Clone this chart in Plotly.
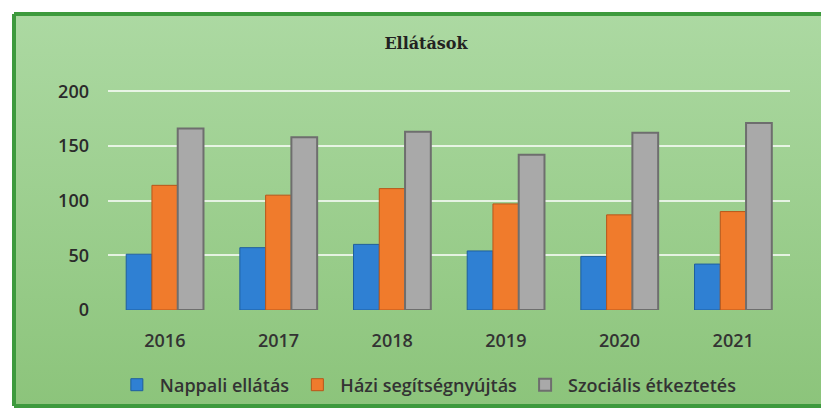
import plotly.graph_objects as go

years = ["2016", "2017", "2018", "2019", "2020", "2021"]
nappali = [51, 57, 60, 54, 49, 42]
hazi = [114, 105, 111, 97, 87, 90]
szocialis = [166, 158, 163, 142, 162, 171]
y_ticks = [0, 50, 100, 150, 200]

colors = {
    'nappali': '#2f80d3',
    'hazi': '#f07b2c',
    'szoc': '#a9a9a9',
}

fig = go.Figure()
fig.add_trace(go.Bar(x=years, y=nappali, name="Nappali ellátás",
                     marker=dict(color=colors['nappali'], line=dict(color='#1f5e9e', width=1))))
fig.add_trace(go.Bar(x=years, y=hazi, name="Házi segítségnyújtás",
                     marker=dict(color=colors['hazi'], line=dict(color='#b8561a', width=1))))
fig.add_trace(go.Bar(x=years, y=szocialis, name="Szociális étkeztetés",
                     marker=dict(color=colors['szoc'], line=dict(color='#6e6e6e', width=2))))

# green gradient background via an inline svg
svg = ("data:image/svg+xml;utf8,<svg xmlns='http://www.w3.org/2000/svg' width='100' height='100' "
       "preserveAspectRatio='none'><defs><linearGradient id='g' x1='0' y1='0' x2='0' y2='1'>"
       "<stop offset='0' stop-color='%23acd9a2'/><stop offset='1' stop-color='%238cc47b'/>"
       "</linearGradient></defs><rect width='100' height='100' fill='url(%23g)'/></svg>")

# page body has an 8px margin, so the figure is laid out 8px up/left of the page coords
FW, FH = 821, 404
W, H = 682, 222  # plot area size in px
L, T = 100, 80

# frame edges in paper units (left, right, bottom, top)
fx0, fx1 = -(L - 6) / W, (FW - L) / W
fy0, fy1 = -(FH - 6 - T - H) / H, 1 + (T - 6) / H
frame = dict(color='#3d9a3d', width=4)

fig.update_layout(
    width=FW, height=FH,
    margin=dict(l=L, r=FW - L - W, t=T, b=FH - T - H),
    paper_bgcolor='white',
    plot_bgcolor='rgba(0,0,0,0)',
    barmode='group',
    bargap=0.32,
    bargroupgap=0,
    title=dict(text="<b>Ellátások</b>", x=418 / FW, xanchor='center', y=1 - 35 / FH, yanchor='middle',
               font=dict(family="DejaVu Serif", size=16, color='#222')),
    xaxis=dict(showgrid=False, showline=False, ticks='', ticklabelstandoff=18, automargin=False,
               tickfont=dict(family="Open Sans", size=18, color='#333', weight=600)),
    yaxis=dict(range=[0, 203], tickvals=y_ticks, showline=False, zeroline=False, automargin=False,
               gridcolor='rgba(255,255,255,0.75)', gridwidth=2, ticks='', ticklabelstandoff=18,
               tickfont=dict(family="Open Sans", size=18, color='#2a2a2a', weight=600)),
    legend=dict(orientation='h', x=0.469, xanchor='center', yref='container', y=1 - 377 / FH,
                yanchor='middle', font=dict(family="Open Sans", size=18, color='#333', weight=600),
                itemwidth=36, bgcolor='rgba(0,0,0,0)'),
    images=[dict(source=svg, xref='paper', yref='paper', x=fx0, y=fy1,
                 sizex=fx1 - fx0, sizey=fy1 - fy0, sizing='stretch', layer='below',
                 xanchor='left', yanchor='top')],
    shapes=[
        dict(type='line', xref='paper', yref='paper', x0=fx0, x1=fx1, y0=fy1, y1=fy1, line=frame),
        dict(type='line', xref='paper', yref='paper', x0=fx0, x1=fx0, y0=fy0, y1=fy1, line=frame),
        dict(type='line', xref='paper', yref='paper', x0=fx0, x1=fx1, y0=fy0, y1=fy0, line=frame),
    ],
)

fig.write_html("out.html")
